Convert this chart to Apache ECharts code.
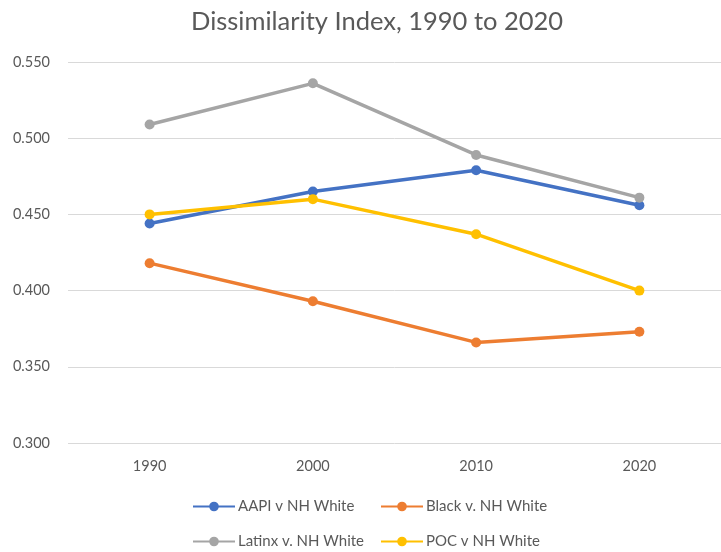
<!DOCTYPE html>
<html>
<head>
<meta charset="utf-8">
<script src="https://cdn.jsdelivr.net/npm/echarts@6/dist/echarts.min.js"></script>
<style>
  html, body { margin: 0; padding: 0; background: #fff; }
  #main { width: 721px; height: 552px; }
</style>
</head>
<body>
<div id="main"></div>
<script>
var years = ['1990', '2000', '2010', '2020']
var aapi = [0.444, 0.465, 0.479, 0.456]
var black = [0.418, 0.393, 0.366, 0.373]
var latinx = [0.509, 0.536, 0.489, 0.461]
var poc = [0.450, 0.460, 0.437, 0.400]

var names = ['AAPI v NH White', 'Black v. NH White', 'Latinx v. NH White', 'POC v NH White']
var colors = ['#4472C4', '#ED7D31', '#A5A5A5', '#FFC000']
var values = [aapi, black, latinx, poc]

// legend laid out as 2x2 like the original
var legendPos = [[192, 499], [380, 499], [192, 534], [380, 534]]

var myChart = echarts.init(document.getElementById('main'))
var font = 'Lato, "Open Sans", sans-serif'

myChart.setOption({
    color: colors,
    title: {
        text: 'Dissimilarity Index, 1990 to 2020',
        left: 186,
        top: 4,
        textStyle: { fontFamily: font, fontSize: 25.5, fontWeight: 'normal', color: '#595959' }
    },
    legend: names.map(function (n, i) {
        return {
            data: [n],
            left: legendPos[i][0],
            top: legendPos[i][1],
            itemWidth: 42,
            itemHeight: 12,
            itemGap: 4,
            textStyle: { fontFamily: font, fontSize: 15, color: '#595959', padding: [0, 0, 0, -2] },
            padding: 0
        }
    }),
    grid: { left: 68, right: -6, top: 62, bottom: 109 },
    xAxis: {
        type: 'category',
        data: years,
        boundaryGap: true,
        axisLine: { show: false },
        axisTick: { show: false },
        axisLabel: { fontFamily: font, fontSize: 14.5, color: '#595959', margin: 16 }
    },
    yAxis: {
        type: 'value',
        min: 0.3,
        max: 0.55,
        interval: 0.05,
        axisLabel: {
            fontFamily: font, fontSize: 14.5, color: '#595959', margin: 18,
            formatter: function (v) { return v.toFixed(3) }
        },
        splitLine: { lineStyle: { color: '#D9D9D9', width: 1 } }
    },
    series: names.map(function (n, i) {
        return {
            name: n,
            type: 'line',
            data: values[i],
            symbol: 'circle',
            symbolSize: 10,
            lineStyle: { width: 3.5 },
            emphasis: { disabled: true }
        }
    })
})
</script>
</body>
</html>
